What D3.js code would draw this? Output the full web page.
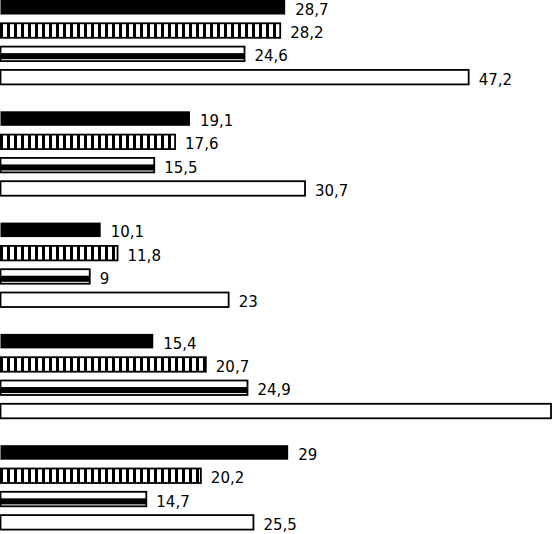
<html>
    <head>
        <meta charset="utf-8">
        <script src="https://d3js.org/d3.v7.min.js"></script>
        <title>bars</title>
        <style>
            body { margin: 0; background: white; overflow: hidden; }
        </style>
    </head>
    <body>
        <svg id="chart"></svg>
        <script>
            // data
            const groups = ["A", "B", "C", "D", "E"];
            const series = ["s1", "s2", "s3", "s4"];
            const s1 = [28.7, 19.1, 10.1, 15.4, 29];
            const s2 = [28.2, 17.6, 11.8, 20.7, 20.2];
            const s3 = [24.6, 15.5, 9, 24.9, 14.7];
            const s4 = [47.2, 30.7, 23, 55.5, 25.5];

            const width = 552;
            const height = 534;

            let rows = [];
            groups.forEach((g, i) => {
                rows.push({'g': g, 's': 's1', 'v': s1[i]});
                rows.push({'g': g, 's': 's2', 'v': s2[i]});
                rows.push({'g': g, 's': 's3', 'v': s3[i]});
                rows.push({'g': g, 's': 's4', 'v': s4[i]});
            });

            let svg = d3.select("svg#chart")
                        .attr("width", width)
                        .attr("height", height);

            // vertical stripe pattern
            let defs = svg.append("defs");
            let pat = defs.append("pattern")
                          .attr("id", "vstripe")
                          .attr("patternUnits", "userSpaceOnUse")
                          .attr("width", 7)
                          .attr("height", 20);
            pat.append("rect").attr("width", 7).attr("height", 20).attr("fill", "white");
            pat.append("rect").attr("x", 0).attr("width", 3).attr("height", 20).attr("fill", "black");

            const xScale = d3.scaleLinear()
                             .domain([0, 55.5])
                             .range([0.5, 551]);

            const yGroup = d3.scaleBand()
                             .domain(groups)
                             .range([0, 111.3 * groups.length]);

            const yInner = d3.scaleBand()
                             .domain(series)
                             .range([0, 84.4])
                             .paddingInner(0.378);

            const bh = yInner.bandwidth();
            const barTop = d => yGroup(d['g']) + yInner(d['s']);

            function fillOf(s){
                if (s == 's1') return 'black';
                if (s == 's2') return 'url(#vstripe)';
                return 'white';
            }

            svg.selectAll('rect.bar').data(rows)
               .join('rect')
               .attr('class', 'bar')
               .attr('x', xScale(0))
               .attr('y', d => barTop(d))
               .attr('width', d => xScale(d['v']) - xScale(0))
               .attr('height', bh)
               .attr('fill', d => fillOf(d['s']))
               .attr('stroke', 'black')
               .attr('stroke-width', d => d['s'] == 's1' ? 0 : 1.8);

            // inner band of the third series
            svg.selectAll('rect.band').data(rows.filter(d => d['s'] == 's3'))
               .join('rect')
               .attr('class', 'band')
               .attr('x', xScale(0))
               .attr('y', d => barTop(d) + bh * 0.45)
               .attr('width', d => xScale(d['v']) - xScale(0))
               .attr('height', bh * 0.42)
               .attr('fill', 'black');

            // labels that would fall past the right edge are not shown (as in the picture)
            svg.selectAll('text.lbl').data(rows.filter(d => xScale(d['v']) + 40 < width))
               .join('text')
               .attr('class', 'lbl')
               .attr('x', d => xScale(d['v']) + 10)
               .attr('y', d => barTop(d) + bh / 2 + 2.5)
               .attr('dominant-baseline', 'central')
               .style('font-family', 'DejaVu Sans')
               .style('font-size', '15px')
               .attr('fill', 'black')
               .text(d => String(d['v']).replace('.', ','));
        </script>
    </body>
</html>
